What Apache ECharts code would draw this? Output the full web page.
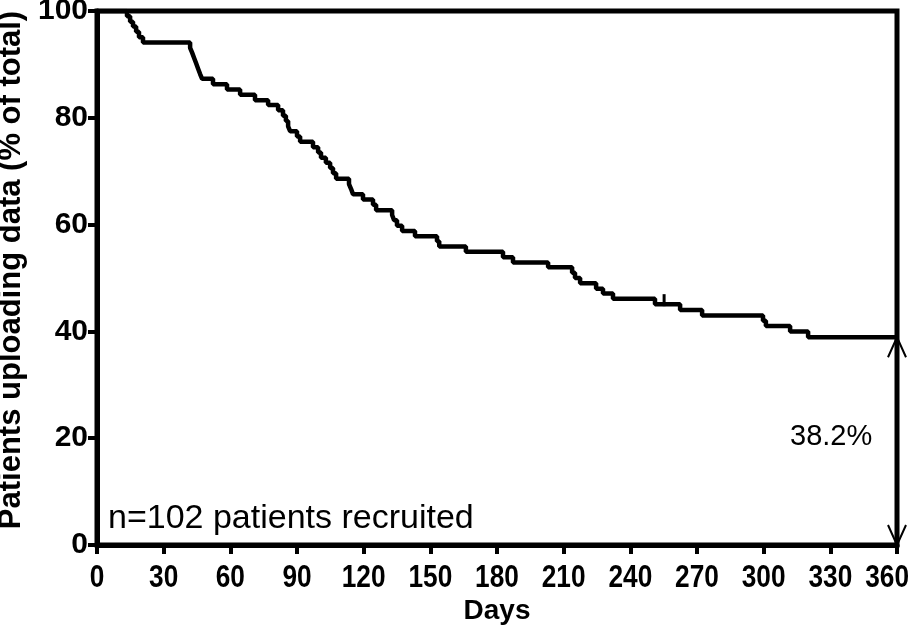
<!DOCTYPE html>
<html>
<head>
<meta charset="utf-8">
<script src="https://cdn.jsdelivr.net/npm/echarts@6/dist/echarts.min.js"></script>
<style>html,body{margin:0;padding:0;background:#fff;}#c{width:911px;height:630px;}</style>
</head>
<body>
<div id="c"></div>
<script>
// Kaplan-Meier style step data: day of drop and value after the drop (% of total)
var stepDays = [0, 13.5, 14.9, 16.2, 17.6, 18.9, 20.7, 41.9, 42.8, 43.7, 44.6, 45.5, 46.4, 47.3,
  52.2, 58.5, 64.4, 71.1, 77, 81.5, 83.7, 85, 86, 86.9, 90, 91.4, 97.2, 99.5, 100.8, 103, 104.9,
  106.2, 107.6, 113.4, 114.3, 115.2, 119.7, 124.2, 125.6, 132.8, 133.7, 135, 137.3, 143.1, 153,
  154, 166, 182.7, 187.2, 203, 213.8, 215.1, 217.4, 224.6, 227.7, 232.2, 251.1, 262.4, 272.3,
  299.7, 301, 311.9, 320, 360];
var stepValues = [100, 99.0, 98.0, 97.1, 96.1, 95.1, 94.1, 93.1, 92.2, 91.2, 90.2, 89.2, 88.2, 87.3,
  86.3, 85.3, 84.3, 83.3, 82.4, 81.4, 80.4, 79.4, 78.4, 77.5, 76.5, 75.5, 74.5, 73.5, 72.5, 71.6, 70.6,
  69.6, 68.6, 67.6, 66.7, 65.7, 64.7, 63.7, 62.7, 61.8, 60.8, 59.8, 58.8, 57.8, 56.9,
  55.9, 54.9, 53.9, 52.9, 52.0, 51.0, 50.0, 49.0, 48.0, 47.1, 46.1, 45.1, 44.0, 43.0,
  42.0, 41.0, 40.0, 38.9, 38.9];
var censorDays = [255.2];
var censorValues = [45.1];
var xTicks = [0, 30, 60, 90, 120, 150, 180, 210, 240, 270, 300, 330, 360];
var yTicks = [0, 20, 40, 60, 80, 100];
var arrowDay = 360;
var arrowTop = 38.9;
var arrowLabel = '38.2%';
var nLabel = 'n=102 patients recruited';
var xTitle = 'Days';
var yTitle = 'Patients uploading data (% of total)';

var lineData = stepDays.map(function (d, i) { return [d, stepValues[i]]; });
var censorData = censorDays.map(function (d, i) { return [d, censorValues[i]]; });
var xLabelData = xTicks.map(function (d) { return [d, 0]; });

var X_LABEL_SIZE = 32, X_LABEL_SCALE = 0.82, CHART_W = 911;
var chart = echarts.init(document.getElementById('c'));
chart.setOption({
  animation: false,
  backgroundColor: '#fff',
  grid: { left: 97, right: 14, top: 11, bottom: 85, containLabel: false, outerBoundsMode: 'none',
    show: true, borderColor: '#000', borderWidth: 5, backgroundColor: 'transparent' },
  xAxis: {
    type: 'value', min: xTicks[0], max: xTicks[xTicks.length - 1], interval: 30,
    name: xTitle, nameLocation: 'middle', nameGap: 52,
    nameTextStyle: { fontFamily: 'Liberation Sans', fontWeight: 'bold', fontSize: 28, color: '#000' },
    axisLine: { lineStyle: { color: '#000', width: 5 } },
    axisTick: { show: true, length: 9, lineStyle: { color: '#000', width: 4 } },
    axisLabel: { show: false },
    splitLine: { show: false }
  },
  yAxis: {
    type: 'value', min: yTicks[0], max: yTicks[yTicks.length - 1], interval: 20,
    name: yTitle, nameLocation: 'middle', nameGap: 64, nameRotate: 90,
    nameTextStyle: { fontFamily: 'Liberation Sans', fontWeight: 'bold', fontSize: 31, color: '#000', padding: [0, 0, 0, 16] },
    axisLine: { show: true, lineStyle: { color: '#000', width: 5 } },
    axisTick: { show: true, length: 9, lineStyle: { color: '#000', width: 4 } },
    axisLabel: { fontFamily: 'Liberation Sans', fontWeight: 'bold', fontSize: 30, color: '#000', margin: 9 },
    splitLine: { show: false }
  },
  series: [
    {
      type: 'line', step: 'end', data: lineData, showSymbol: false, symbol: 'none',
      lineStyle: { color: '#000', width: 4.5 }, z: 3
    },
    {
      type: 'custom', data: censorData, clip: false, z: 4,
      renderItem: function (params, api) {
        var p = api.coord([api.value(0), api.value(1)]);
        return { type: 'line', shape: { x1: p[0], y1: p[1] + 2, x2: p[0], y2: p[1] - 10 }, style: { stroke: '#000', lineWidth: 3 } };
      }
    },
    {
      // x-axis tick labels (condensed look), positioned through the axis scale
      type: 'custom', data: xLabelData, clip: false, z: 6, silent: true,
      renderItem: function (params, api) {
        var p = api.coord([api.value(0), api.value(1)]);
        var txt = String(api.value(0));
        var half = txt.length * 0.556 * X_LABEL_SIZE * X_LABEL_SCALE / 2;
        var cx = Math.min(p[0], CHART_W - 2 - half);
        return {
          type: 'text', x: cx, y: p[1] + 33, scaleX: X_LABEL_SCALE,
          style: { text: txt, x: 0, y: 0, textAlign: 'center', textVerticalAlign: 'middle',
            fontFamily: 'Liberation Sans', fontWeight: 'bold', fontSize: X_LABEL_SIZE, fill: '#000' }
        };
      }
    },
    {
      type: 'custom', data: [[arrowDay, arrowTop]], clip: false, z: 5,
      renderItem: function (params, api) {
        var t = api.coord([api.value(0), api.value(1)]);
        var b = api.coord([api.value(0), 0]);
        var st = { stroke: '#000', lineWidth: 2, fill: null };
        return {
          type: 'group', children: [
            { type: 'line', shape: { x1: t[0], y1: t[1], x2: b[0], y2: b[1] }, style: st },
            { type: 'polyline', shape: { points: [[t[0] - 9, t[1] + 20], [t[0], t[1]], [t[0] + 9, t[1] + 20]] }, style: st },
            { type: 'polyline', shape: { points: [[b[0] - 9, b[1] - 20], [b[0], b[1]], [b[0] + 9, b[1] - 20]] }, style: st }
          ]
        };
      }
    }
  ],
  graphic: [
    { type: 'text', left: 108, top: 502, style: { text: nLabel, fontFamily: 'Liberation Sans', fontSize: 34, fill: '#000' } },
    { type: 'text', left: 790, top: 422, style: { text: arrowLabel, fontFamily: 'Liberation Sans', fontSize: 29, fill: '#000' } }
  ]
});
</script>
</body>
</html>
